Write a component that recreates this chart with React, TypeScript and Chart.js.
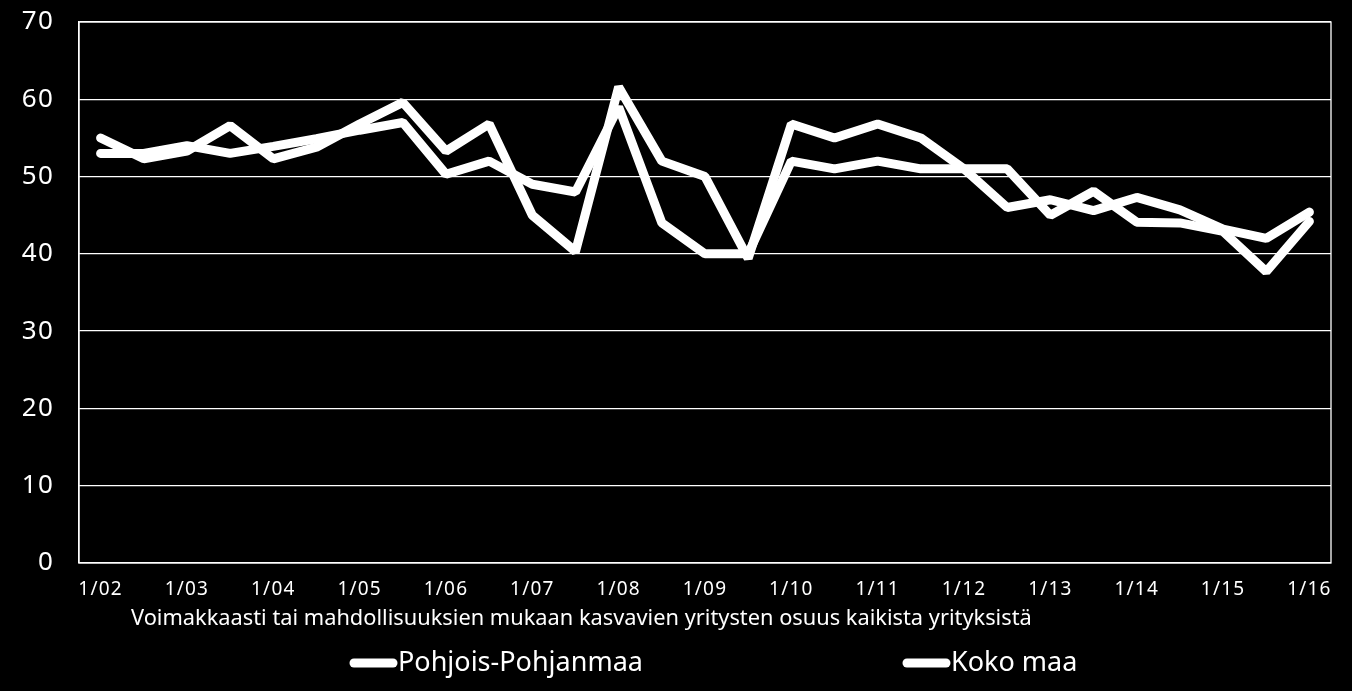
import { useEffect, useRef } from 'react'
import { Chart, registerables } from 'chart.js'

Chart.register(...registerables)

const FONT = "'Noto Sans', sans-serif"

// half-year points, labels only on January
const PERIODS = [
  '1/02', '7/02', '1/03', '7/03', '1/04', '7/04', '1/05', '7/05', '1/06', '7/06',
  '1/07', '7/07', '1/08', '7/08', '1/09', '7/09', '1/10', '7/10', '1/11', '7/11',
  '1/12', '7/12', '1/13', '7/13', '1/14', '7/14', '1/15', '7/15', '1/16',
]

const POHJOIS_POHJANMAA = [
  55, 52.3, 53.3, 56.6, 52.3, 53.8, 56.8, 59.6, 53.3, 56.8,
  45, 40.3, 61.6, 52, 50, 39.4, 56.8, 55, 56.8, 55,
  51, 46, 47, 45.6, 47.3, 45.7, 43.2, 42, 45.4,
]

const KOKO_MAA = [
  53, 53, 54, 53, 53.9, 54.9, 56, 57, 50.3, 52,
  49, 48, 59, 44, 40, 40, 52, 51, 52, 51,
  51, 51, 45, 48.1, 44.1, 44, 42.9, 37.7, 44.2,
]

const SERIES_NAMES = ['Pohjois-Pohjanmaa', 'Koko maa']
const Y_TICKS = { min: 0, max: 70, step: 10 }
const AXIS_TITLE = 'Voimakkaasti tai mahdollisuuksien mukaan kasvavien yritysten osuus kaikista yrityksistä'

// legend items are spread out like in the original slide
const LEGEND_X = [354, 907]
const LEGEND_Y = 663
const LEGEND_LINE = 39

const overlayPlugin = {
  id: 'overlay',
  beforeDraw(chart: any) {
    // slightly spaced tick labels, as in the original
    chart.ctx.letterSpacing = '1.2px'
  },
  beforeDatasetsDraw(chart: any) {
    const { ctx, chartArea } = chart
    ctx.letterSpacing = '0px'
    ctx.save()
    ctx.strokeStyle = '#ffffff'
    ctx.lineWidth = 1.3
    ctx.strokeRect(chartArea.left, chartArea.top, chartArea.right - chartArea.left, chartArea.bottom - chartArea.top)
    ctx.restore()
  },
  afterDraw(chart: any) {
    const { ctx } = chart
    ctx.save()
    ctx.fillStyle = '#ffffff'
    ctx.textBaseline = 'middle'
    ctx.textAlign = 'left'
    ctx.font = `21.8px ${FONT}`
    ctx.fillText(AXIS_TITLE, 131, 619)

    ctx.font = `27px ${FONT}`
    chart.data.datasets.forEach((ds: any, i: number) => {
      const x = LEGEND_X[i]
      ctx.strokeStyle = ds.borderColor
      ctx.lineWidth = 9
      ctx.lineCap = 'round'
      ctx.beginPath()
      ctx.moveTo(x, LEGEND_Y)
      ctx.lineTo(x + LEGEND_LINE, LEGEND_Y)
      ctx.stroke()
      ctx.fillText(ds.label, x + LEGEND_LINE + 5, LEGEND_Y)
    })
    ctx.restore()
  },
}

export default function App() {
  const canvasRef = useRef<HTMLCanvasElement>(null)

  useEffect(() => {
    document.body.style.margin = '0'
    document.body.style.background = '#000'
    if (!canvasRef.current) return

    const lineStyle = {
      borderColor: '#ffffff',
      backgroundColor: '#ffffff',
      borderWidth: 9,
      borderCapStyle: 'round' as const,
      borderJoinStyle: 'bevel' as const,
      pointRadius: 0,
      tension: 0,
      fill: false,
    }

    const chart = new Chart(canvasRef.current, {
      type: 'line',
      data: {
        labels: PERIODS,
        datasets: [
          { label: SERIES_NAMES[0], data: POHJOIS_POHJANMAA, ...lineStyle },
          { label: SERIES_NAMES[1], data: KOKO_MAA, ...lineStyle },
        ],
      },
      options: {
        responsive: false,
        animation: false,
        layout: { padding: { top: 22, right: 21, bottom: 0, left: 0 } },
        plugins: {
          legend: { display: false },
          tooltip: { enabled: false },
        },
        scales: {
          x: {
            offset: true,
            grid: { display: false, drawTicks: false },
            border: { display: false },
            ticks: {
              color: '#ffffff',
              font: { family: FONT, size: 19 },
              autoSkip: false,
              maxRotation: 0,
              padding: 15,
              callback: (_v: any, i: number) => (i % 2 === 0 ? PERIODS[i] : ''),
            },
            afterFit: (scale: any) => {
              scale.height = 128
            },
          },
          y: {
            min: Y_TICKS.min,
            max: Y_TICKS.max,
            grid: { color: '#ffffff', lineWidth: 1.3, drawTicks: false },
            border: { display: true, color: '#ffffff', width: 1.3 },
            ticks: {
              stepSize: Y_TICKS.step,
              color: '#ffffff',
              font: { family: FONT, size: 26 },
              padding: 25,
            },
            afterFit: (scale: any) => {
              scale.width = 79
              // tick padding should not push the plot down
              scale.paddingTop = 0
              scale.paddingBottom = 0
            },
          },
        },
      },
      plugins: [overlayPlugin],
    })

    return () => chart.destroy()
  }, [])

  return (
    <div style={{ width: 1352, height: 691, background: '#000' }}>
      <canvas ref={canvasRef} width={1352} height={691} style={{ display: 'block' }} />
    </div>
  )
}
